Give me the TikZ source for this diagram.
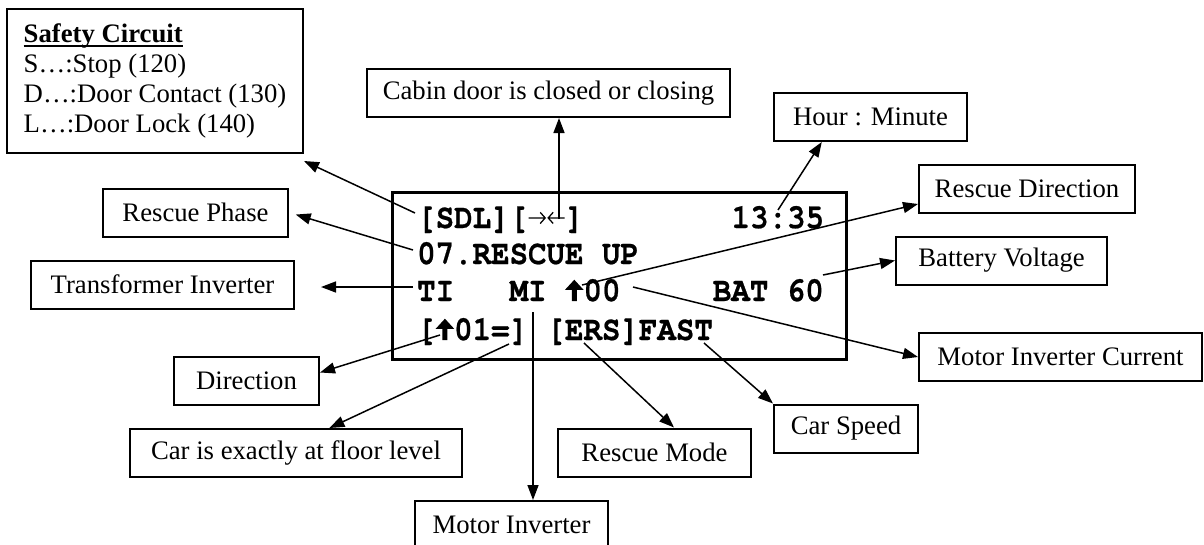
\documentclass[tikz,border=0pt]{standalone}
\usepackage{fontspec}
\setmainfont{Liberation Serif}
\setmonofont{TeX Gyre Cursor}[BoldFeatures={FakeBold=0.6}]
\usetikzlibrary{arrows.meta,calc,positioning}

\newcommand\uparr{\tikz[baseline=0pt,x=1pt,y=1pt]{\path (0,0) rectangle (18.5,19);
  \fill (9.25,19) -- (0,10) -- (6.75,10) -- (6.75,0) -- (11.75,0) -- (11.75,10) -- (18.5,10) -- cycle;}}
\newcommand\rarr{\tikz[baseline=0pt,x=1pt,y=1pt]{\path (0,0) rectangle (18.5,19);
  \draw[line width=1.2pt] (0.5,9) -- (17,9) (12,14) -- (17,9) -- (12,4);}}
\newcommand\larr{\tikz[baseline=0pt,x=1pt,y=1pt]{\path (0,0) rectangle (18.5,19);
  \draw[line width=1.2pt] (18,9) -- (1.5,9) (6.5,14) -- (1.5,9) -- (6.5,4);}}
\newcommand\ul[1]{\setbox0\hbox{#1}\rlap{\rule[-4pt]{\wd0}{2pt}}\box0}
\newcommand\lcdrow[1]{\scalebox{1}[1.12]{#1}}

\begin{document}
\begin{tikzpicture}
  [x=1pt, y=-1pt,
   >={Triangle[length=15pt,width=11pt]},
   lbl/.style={draw, line width=2pt, minimum height=48pt, inner sep=0pt,
     font=\fontsize{26.7}{30}\selectfont},
   lcdtext/.style={anchor=base west, inner sep=0pt,
     font=\fontsize{30.8}{37}\selectfont\ttfamily\bfseries},
   pointer/.style={->, line width=1.5pt}]
  \useasboundingbox (0,0) rectangle (1204,544);

  \node (safety) [lbl, align=left, minimum width=296pt, minimum height=144pt] at (155,81)
    {\ul{\textbf{Safety Circuit}}\\S…:Stop (120)\\D…:Door Contact (130)\\L…:Door Lock (140)};
  \node (cabin) [lbl, minimum width=363pt] at (548.5,93) {Cabin door is closed or closing};
  \node (hour) [lbl, minimum width=193pt] at (870.5,117) {Hour : Minute};
  \node (rdir) [lbl, minimum width=216pt] at (1027,189) {Rescue Direction};
  \node (batt) [lbl, minimum width=211pt] at (1001.5,260.5) {Battery Voltage};
  \node (micur) [lbl, minimum width=283pt] at (1060.5,357) {Motor Inverter Current};
  \node (phase) [lbl, minimum width=185pt] at (195.5,212.5) {Rescue Phase};
  \node (trans) [lbl, minimum width=263pt] at (162.5,284.5) {Transformer Inverter};
  \node (dir) [lbl, minimum width=145pt] at (246.5,380.5) {Direction};
  \node (level) [lbl, minimum width=332pt] at (296,453) {Car is exactly at floor level};
  \node (minv) [lbl, minimum width=193pt] at (511.5,525) {Motor Inverter};
  \node (mode) [lbl, minimum width=193pt] at (654.5,452.5) {Rescue Mode};
  \node (speed) [lbl, minimum width=144pt] at (846,428.5) {Car Speed};

  \node (lcd) [draw, line width=3pt, minimum width=454pt, minimum height=167pt] at (619,275.5) {};
  \node (row1) [lcdtext] at (417,228) {\lcdrow{[SDL][\rarr\larr]~~~~~~~~13:35}};
  \node (row2) [lcdtext] at (417,264) {\lcdrow{07.RESCUE~UP}};
  \node (row3) [lcdtext] at (417,301) {\lcdrow{TI~~~MI~\uparr00~~~~~BAT~60}};
  \node (row4) [lcdtext] at (417,340) {\lcdrow{[\uparr01=]~[ERS]FAST}};

  \coordinate (sdl) at (415,213);
  \coordinate (door) at (559,219);
  \coordinate (time) at (778,210);
  \coordinate (up) at (582,285);
  \coordinate (bat) at (823,275);
  \coordinate (cur) at (633,287);
  \coordinate (zero) at (413,250);
  \coordinate (ti) at (413,287);
  \coordinate (dirup) at (440,335);
  \coordinate (eq) at (509,344);
  \coordinate (mi) at (533,312);
  \coordinate (ers) at (584,343);
  \coordinate (fast) at (704,343);

  \draw[pointer] (sdl) -- ([yshift=-7pt]safety.south east);
  \draw[pointer] (door) -- (door |- cabin.south);
  \draw[pointer] (time) -- ($(hour.south west)!0.25!(hour.south east)$);
  \draw[pointer] (up) -- ([yshift=10pt]rdir.south west);
  \draw[pointer] (bat) -- (batt.west);
  \draw[pointer] (cur) -- (micur.west);
  \draw[pointer, shorten >=7pt] (zero) -- (phase.east);
  \draw[pointer, shorten >=26pt] (ti) -- (ti -| trans.east);
  \draw[pointer] (dirup) -- ([yshift=8pt]dir.east);
  \draw[pointer] (eq) -- ($(level.north west)!0.6!(level.north east)$);
  \draw[pointer] (mi) -- (mi |- minv.north);
  \draw[pointer] (ers) -- ($(mode.north west)!0.6!(mode.north east)$);
  \draw[pointer] (fast) -- (speed.north west);
\end{tikzpicture}
\end{document}
